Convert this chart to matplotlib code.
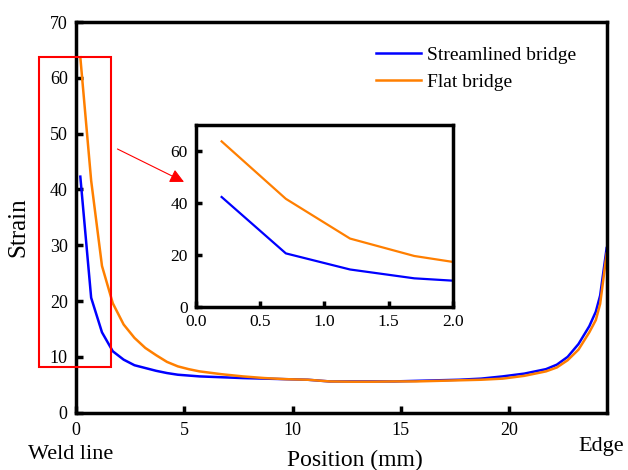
import matplotlib
matplotlib.use("Agg")
import matplotlib.pyplot as plt
from matplotlib.patches import Rectangle

plt.rcParams["font.family"] = ["Liberation Serif", "DejaVu Serif"]

# strain profiles along the section, weld line (0) to edge
position = [0.2, 0.7, 1.2, 1.7, 2.2, 2.7, 3.2, 3.7, 4.2, 4.7, 5.2, 5.7, 6.7, 7.7,
            8.7, 9.7, 10.7, 11.7, 12.7, 13.7, 14.7, 15.7, 16.7, 17.7, 18.7, 19.7,
            20.7, 21.7, 22.2, 22.7, 23.2, 23.7, 24.0, 24.2, 24.5]
streamlined = [42.3, 20.6, 14.4, 11.0, 9.5, 8.5, 8.0, 7.5, 7.1, 6.8, 6.65, 6.5, 6.35,
               6.2, 6.1, 6.0, 5.9, 5.6, 5.6, 5.6, 5.6, 5.7, 5.8, 5.9, 6.1, 6.5,
               7.0, 7.8, 8.6, 10.0, 12.3, 15.5, 18.1, 21.0, 29.5]
flat = [63.7, 41.6, 26.3, 19.6, 15.8, 13.4, 11.6, 10.3, 9.1, 8.3, 7.8, 7.4, 6.9,
        6.5, 6.2, 6.0, 5.9, 5.6, 5.55, 5.55, 5.6, 5.6, 5.7, 5.8, 5.9, 6.1,
        6.6, 7.4, 8.1, 9.4, 11.3, 14.4, 16.6, 19.5, 28.5]

blue = "#0000ff"
orange = "#ff7f00"

fig = plt.figure(figsize=(6.28, 4.70), dpi=100)
ax = fig.add_axes([0.121, 0.122, 0.845, 0.831])

ax.plot(position, streamlined, color=blue, lw=1.8, label="Streamlined bridge")
ax.plot(position, flat, color=orange, lw=1.8, label="Flat bridge")
ax.set_xlim(0, 24.5)
ax.set_ylim(0, 70)
ax.set_xticks([0, 5, 10, 15, 20])
ax.set_yticks(range(0, 80, 10))
ax.tick_params(direction="in", length=5, width=2.5, labelsize=13,
               top=False, right=False)
ax.tick_params(axis="x", pad=7)
ax.tick_params(axis="y", pad=6)
for sp in ax.spines.values():
    sp.set_linewidth(2.5)

ax.legend(loc="upper left", bbox_to_anchor=(0.598, 1 - 46 / 470),
          bbox_transform=fig.transFigure, frameon=False, fontsize=14,
          handlelength=2.35, handletextpad=0.3, labelspacing=0.5,
          borderpad=0, borderaxespad=0)

# zoom window around the weld line
ax.add_patch(Rectangle((-1.69, 8.2), 3.29, 55.5, fill=False, edgecolor="red",
                       lw=1.5, clip_on=False, zorder=5))
ax.annotate("", xy=(0.293, 0.613), xytext=(0.187, 0.683),
            xycoords="figure fraction", textcoords="figure fraction",
            arrowprops=dict(arrowstyle="-|>,head_length=0.7,head_width=0.35",
                            color="red", lw=0.8, mutation_scale=12,
                            shrinkA=0, shrinkB=0))

fig.text(0.030, 0.517, "Strain", rotation=90, ha="center", va="center", fontsize=18)
fig.text(0.565, 0.021, "Position (mm)", ha="center", va="center", fontsize=17)
fig.text(0.112, 0.032, "Weld line", ha="center", va="center", fontsize=16)
fig.text(0.958, 0.051, "Edge", ha="center", va="center", fontsize=16)

# inset
ins = fig.add_axes([0.312, 0.347, 0.409, 0.387])
ins.plot(position, streamlined, color=blue, lw=1.6)
ins.plot(position, flat, color=orange, lw=1.6)
ins.set_xlim(0, 2.0)
ins.set_ylim(0, 70)
ins.set_xticks([0.0, 0.5, 1.0, 1.5, 2.0])
ins.set_xticklabels(["0.0", "0.5", "1.0", "1.5", "2.0"])
ins.set_yticks([0, 20, 40, 60])
ins.tick_params(direction="in", length=4, width=2.5, labelsize=12.5,
                top=False, right=False)
ins.tick_params(axis="x", pad=5)
ins.tick_params(axis="y", pad=6)
for sp in ins.spines.values():
    sp.set_linewidth(2.5)

fig.savefig("out.png", dpi=100)
